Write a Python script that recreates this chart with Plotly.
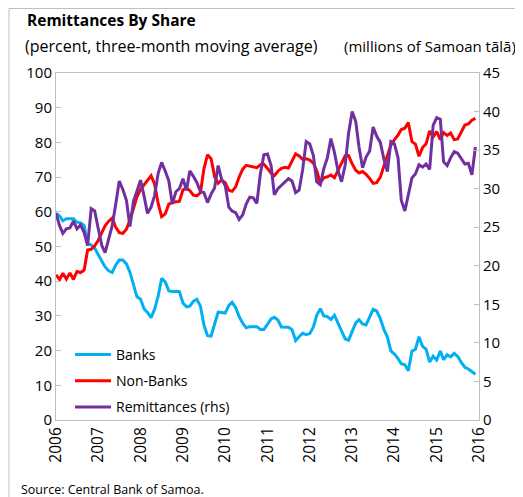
import pandas as pd
import plotly.graph_objects as go

# monthly, Jan 2006 - Dec 2015
months = pd.date_range('2006-01-01', periods=120, freq='MS')

banks = [
    59.6, 58.8, 57.4, 58.0, 58.0, 58.0, 57.0, 56.8, 56.0, 50.9, 50.4, 49.5,
    47.6, 45.7, 44.1, 43.0, 42.5, 44.7, 46.1, 46.1, 45.0, 42.6, 39.0, 35.5,
    34.8, 32.0, 31.0, 29.5, 31.9, 35.7, 40.8, 39.8, 37.2, 37.0, 37.1, 37.0,
    33.7, 32.6, 32.8, 34.2, 34.8, 32.8, 27.4, 24.3, 24.2, 28.0, 31.1, 31.0,
    30.8, 33.0, 33.9, 32.4, 29.8, 27.9, 26.6, 26.9, 27.0, 26.9, 26.1, 26.1,
    27.6, 29.1, 29.6, 28.8, 26.8, 26.8, 26.7, 26.0, 22.9, 24.0, 25.0, 24.6,
    24.9, 26.8, 30.2, 32.1, 30.0, 29.8, 29.0, 30.2, 28.0, 26.0, 23.4, 23.0,
    25.8, 28.0, 28.9, 27.7, 27.4, 29.8, 31.9, 31.4, 29.2, 26.2, 23.9, 19.9,
    19.0, 17.7, 16.2, 15.9, 14.2, 19.8, 20.4, 24.0, 21.2, 20.4, 16.7, 18.4,
    17.3, 19.9, 17.4, 18.8, 18.2, 19.2, 18.3, 16.6, 15.2, 14.7, 13.9, 13.2,
]

non_banks = [
    41.8, 40.5, 42.3, 40.6, 42.4, 40.5, 42.8, 42.5, 43.2, 49.0, 49.2, 50.2,
    51.8, 54.0, 56.0, 57.3, 58.2, 55.5, 54.0, 53.8, 55.0, 57.5, 61.2, 64.3,
    66.5, 67.8, 68.8, 70.4, 68.0, 62.4, 58.6, 59.4, 62.2, 62.7, 62.9, 63.0,
    66.3, 66.8, 66.1, 64.8, 64.6, 65.5, 72.4, 76.4, 75.3, 70.2, 68.2, 69.2,
    68.4, 66.2, 65.9, 67.2, 70.0, 72.3, 73.4, 73.2, 73.0, 72.7, 73.6, 73.7,
    72.5, 71.1, 70.4, 71.7, 72.5, 72.8, 72.6, 74.5, 76.7, 76.1, 75.1, 75.3,
    74.9, 74.0, 71.8, 68.3, 69.8, 70.1, 70.6, 69.8, 71.8, 73.8, 76.1, 76.2,
    73.8, 72.0, 71.2, 71.6, 70.8, 69.6, 68.2, 68.4, 70.0, 73.1, 76.3, 79.2,
    80.8, 82.1, 83.7, 84.1, 85.7, 80.2, 79.5, 76.0, 78.5, 79.6, 83.3, 81.6,
    83.1, 80.8, 82.8, 82.0, 82.7, 80.8, 81.0, 82.9, 85.0, 85.3, 86.4, 86.9,
]

# millions of tala, right axis
remittances = [
    26.8, 25.2, 24.2, 24.8, 24.9, 25.8, 24.8, 25.3, 24.3, 22.6, 27.4, 27.1,
    24.8, 22.6, 21.7, 23.6, 25.2, 28.0, 31.0, 29.9, 28.5, 25.1, 28.4, 29.7,
    31.1, 29.0, 26.8, 27.6, 29.1, 32.0, 33.4, 32.3, 31.0, 28.0, 29.6, 30.0,
    31.3, 29.8, 32.3, 31.6, 30.8, 29.6, 29.5, 28.2, 29.3, 30.1, 33.0, 31.2,
    30.4, 27.6, 27.1, 26.9, 26.0, 26.6, 28.0, 28.9, 28.8, 28.1, 32.0, 34.4,
    34.5, 33.0, 29.2, 30.0, 30.4, 30.8, 31.3, 31.0, 29.5, 29.8, 32.5, 36.1,
    35.8, 34.3, 30.9, 30.5, 32.6, 34.0, 36.5, 34.7, 32.3, 30.9, 33.0, 37.2,
    40.0, 38.7, 35.4, 32.7, 34.1, 34.9, 38.0, 36.8, 36.0, 33.9, 32.2, 36.1,
    35.8, 34.0, 28.5, 27.1, 29.1, 31.4, 31.9, 33.1, 32.8, 33.2, 32.5, 38.2,
    39.2, 39.0, 33.5, 33.0, 34.0, 34.8, 34.6, 33.9, 33.2, 33.3, 31.8, 35.4,
]

# page body adds an 8px offset; positions below are screenshot pixels
OFF = 8
W, H = 523 - OFF, 497 - OFF
L, R, T, B = 56, 479, 73, 420
FONT = 'Open Sans'
GREY = '#BFBFBF'


def px_x(x):
    return (x - L) / (R - L)


def px_y(y):
    return (B - y) / (B - T)


fig = go.Figure()
fig.add_trace(go.Scatter(x=months, y=banks, name='Banks', mode='lines',
                         line=dict(color='#00B0F0', width=3), legendgroup='a'))
fig.add_trace(go.Scatter(x=months, y=non_banks, name='Non-Banks', mode='lines',
                         line=dict(color='#FF0000', width=3), legendgroup='b'))
fig.add_trace(go.Scatter(x=months, y=remittances, name='Remittances (rhs)', mode='lines',
                         line=dict(color='#7030A0', width=3), legendgroup='c', yaxis='y2'))

fig.update_layout(
    width=W, height=H,
    margin=dict(l=L - OFF, r=W + OFF - R, t=T - OFF, b=H + OFF - B, autoexpand=False),
    paper_bgcolor='white', plot_bgcolor='white',
    font=dict(family=FONT, size=14, color='black'),
    showlegend=True,
    legend=dict(x=px_x(70), y=px_y(339), xanchor='left', yanchor='top', itemwidth=36,
                bgcolor='rgba(0,0,0,0)', font=dict(size=14), tracegroupgap=5),
    xaxis=dict(type='date', range=['2006-01-01', '2016-01-01'], dtick='M12', tick0='2006-01-01',
               tickformat='%Y', tickangle=-90, showgrid=False, showline=True, linecolor=GREY,
               linewidth=1, mirror=True, ticks='', tickfont=dict(size=15.5)),
    yaxis=dict(range=[0, 100], dtick=10, showgrid=False, showline=True, linecolor=GREY,
               ticks='inside', ticklen=5, tickcolor=GREY, zeroline=False, tickfont=dict(size=15)),
    yaxis2=dict(range=[0, 45], dtick=5, overlaying='y', side='right', showgrid=False,
                showline=True, linecolor=GREY, ticks='inside', ticklen=5, tickcolor=GREY,
                zeroline=False, tickfont=dict(size=15)),
)

# outer frame
fig.add_shape(type='rect', xref='paper', yref='paper',
              x0=px_x(9), x1=px_x(540), y0=px_y(520), y1=px_y(8.5),
              line=dict(color=GREY, width=1), fillcolor='rgba(0,0,0,0)', layer='below')

fig.add_annotation(text='<b>Remittances By Share</b>', xref='paper', yref='paper',
                   x=px_x(25), y=px_y(20), xanchor='left', yanchor='middle',
                   showarrow=False, font=dict(size=15.5))
fig.add_annotation(text='(percent, three-month moving average)', xref='paper', yref='paper',
                   x=px_x(23), y=px_y(46), xanchor='left', yanchor='middle',
                   showarrow=False, font=dict(size=16))
fig.add_annotation(text='(millions of Samoan tālā)', xref='paper', yref='paper',
                   x=px_x(342), y=px_y(46), xanchor='left', yanchor='middle',
                   showarrow=False, font=dict(size=15))
fig.add_annotation(text='Source: Central Bank of Samoa.', xref='paper', yref='paper',
                   x=px_x(19), y=px_y(489), xanchor='left', yanchor='middle',
                   showarrow=False, font=dict(size=12.5))

fig.write_html('out.html')
